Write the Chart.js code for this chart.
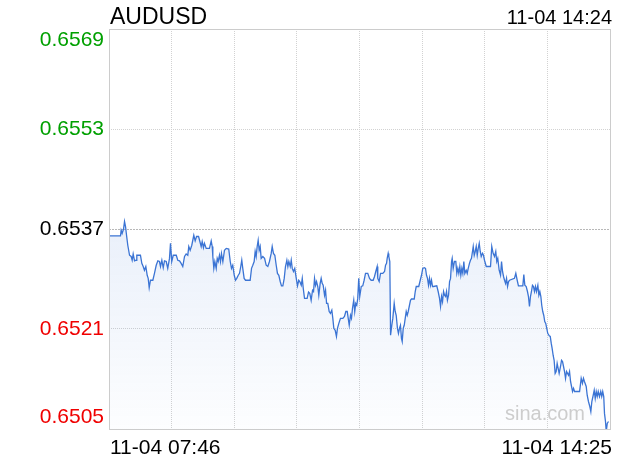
<!DOCTYPE html>
<html>
<head>
<meta charset="utf-8">
<script src="https://cdn.jsdelivr.net/npm/chart.js@4.4.1/dist/chart.umd.min.js"></script>
<style>
  html, body { margin:0; padding:0; background:#fff; }
  #wrap { width:620px; height:460px; }
</style>
</head>
<body>
<div id="wrap"><canvas id="fx" width="620" height="460"></canvas></div>
<script>
// ── Data ────────────────────────────────────────────────────
const symbol = 'AUDUSD';
const stamp = '11-04 14:24';
const xLabels = ['11-04 07:46', '11-04 14:25'];
const prevClose = 0.6537;
const yTicks = [0.6505, 0.6521, 0.6537, 0.6553, 0.6569];

// minutes after 07:46
const minutes = [
  0, 9.2, 9.7, 10.5, 11.6, 12.4, 13.2, 14.0, 15.0, 16.4, 17.7, 18.5, 19.3, 20.4, 21.7, 22.2, 25.1, 26.2, 27.3, 28.3,
  29.4, 30.5, 31.3, 32.1, 33.1, 35.0, 36.3, 37.7, 39.0, 40.3, 41.1, 42.2, 43.3, 44.3, 45.7, 46.9, 48.3, 49.1, 50.1, 51.3,
  53.7, 54.9, 56.3, 57.6, 58.9, 60.3, 61.6, 62.9, 63.7, 64.8, 66.1, 66.9, 67.7, 68.8, 69.9, 71.5, 73.6, 74.4, 75.4, 76.2,
  77.6, 80.2, 81.6, 82.4, 82.9, 83.7, 84.5, 85.6, 86.4, 87.2, 88.2, 89.0, 89.8, 90.9, 92.2, 93.6, 95.6, 96.8, 97.8, 98.8,
  100.0, 101.0, 102.0, 103.2, 104.2, 105.2, 106.0, 106.8, 107.9, 109.0, 112.7, 113.8, 114.8, 115.9, 116.7, 117.5, 118.3, 119.1, 119.9, 120.7,
  121.5, 122.8, 124.2, 125.5, 126.8, 128.1, 129.5, 130.3, 131.3, 132.4, 133.5, 134.5, 135.6, 136.7, 137.7, 138.8, 139.9, 140.9, 142.0, 142.8,
  143.6, 144.7, 145.5, 146.3, 147.3, 148.3, 149.5, 150.5, 151.5, 152.3, 153.5, 154.3, 155.1, 156.1, 158.2, 159.3, 160.3, 161.4, 162.5, 163.3,
  164.1, 164.9, 165.7, 166.7, 167.5, 168.6, 169.4, 170.2, 171.0, 172.1, 172.9, 173.7, 174.7, 175.8, 176.8, 177.9, 178.7, 179.5, 180.6, 181.6,
  182.4, 183.5, 184.8, 186.7, 188.0, 189.1, 190.2, 191.0, 191.8, 192.8, 193.6, 194.4, 195.4, 196.2, 197.0, 197.8, 198.6, 199.4, 200.2, 201.4,
  202.6, 203.7, 204.8, 206.6, 208.0, 209.3, 210.9, 212.0, 213.0, 214.1, 214.6, 215.7, 216.8, 218.6, 220.0, 220.8, 221.6, 222.1, 222.9, 223.4,
  224.2, 224.8, 225.8, 226.6, 227.7, 228.5, 229.3, 230.3, 231.1, 231.9, 232.7, 233.5, 234.1, 234.9, 235.7, 236.5, 237.3, 238.1, 238.9, 239.9,
  240.7, 241.5, 243.7, 244.5, 245.3, 247.3, 248.5, 249.5, 250.5, 251.7, 252.7, 253.5, 254.3, 255.1, 255.9, 256.7, 257.5, 258.3, 259.1, 261.7,
  262.8, 263.9, 264.7, 265.5, 266.3, 267.1, 267.9, 268.7, 269.5, 270.2, 271.1, 271.9, 272.7, 273.5, 274.0, 274.8, 275.8, 276.9, 277.7, 278.5,
  279.3, 280.1, 280.9, 281.7, 282.5, 283.3, 284.1, 285.2, 286.0, 286.8, 287.8, 288.6, 289.4, 290.2, 290.8, 291.6, 292.4, 293.2, 294.0, 294.8,
  295.6, 296.4, 297.2, 298.2, 299.0, 299.8, 301.2, 304.6, 305.6, 306.7, 307.8, 308.8, 309.6, 310.4, 311.5, 312.6, 313.4, 314.2, 315.0, 315.8,
  316.6, 317.4, 318.2, 319.0, 319.8, 323.7, 324.8, 325.9, 326.9, 330.4, 331.2, 332.0, 333.1, 334.1, 334.9, 335.7, 336.5, 337.3, 338.1, 338.9,
  339.7, 340.5, 341.3, 342.4, 343.2, 344.0, 344.8, 345.5, 346.3, 347.1, 347.9, 348.7, 349.5, 350.3, 351.5, 352.3, 353.1, 353.8, 354.6, 355.4,
  356.2, 357.0, 357.8, 358.6, 359.4, 360.5, 361.3, 362.1, 362.9, 363.7, 364.5, 365.3, 366.1, 366.9, 367.7, 368.5, 369.3, 370.1, 370.9, 371.7,
  375.7, 377.0, 378.0, 378.8, 379.6, 381.0, 381.8, 382.8, 383.9, 384.7, 385.5, 386.6, 387.4, 388.2, 389.0, 389.8, 390.6, 391.6, 392.6, 393.4,
  394.2, 395.0, 395.6, 396.4, 397.0, 397.8, 398.8
];

const prices = [
  0.65359, 0.65359, 0.65368, 0.65363, 0.65370, 0.65382, 0.65374, 0.65360, 0.65344, 0.65328, 0.65326, 0.65320, 0.65330, 0.65319, 0.65320, 0.65328, 0.65328, 0.65315, 0.65310, 0.65304,
  0.65310, 0.65296, 0.65291, 0.65276, 0.65288, 0.65288, 0.65299, 0.65312, 0.65319, 0.65318, 0.65310, 0.65320, 0.65308, 0.65319, 0.65318, 0.65307, 0.65323, 0.65347, 0.65318, 0.65328,
  0.65328, 0.65320, 0.65319, 0.65315, 0.65310, 0.65326, 0.65330, 0.65328, 0.65342, 0.65336, 0.65344, 0.65352, 0.65360, 0.65351, 0.65358, 0.65358, 0.65342, 0.65350, 0.65340, 0.65347,
  0.65339, 0.65339, 0.65351, 0.65342, 0.65326, 0.65307, 0.65318, 0.65307, 0.65323, 0.65318, 0.65328, 0.65318, 0.65331, 0.65318, 0.65336, 0.65339, 0.65338, 0.65318, 0.65307, 0.65312,
  0.65296, 0.65288, 0.65291, 0.65296, 0.65299, 0.65310, 0.65320, 0.65307, 0.65291, 0.65288, 0.65288, 0.65307, 0.65312, 0.65318, 0.65334, 0.65326, 0.65342, 0.65352, 0.65336, 0.65342,
  0.65323, 0.65326, 0.65323, 0.65312, 0.65310, 0.65318, 0.65331, 0.65342, 0.65331, 0.65328, 0.65312, 0.65299, 0.65296, 0.65286, 0.65279, 0.65279, 0.65291, 0.65310, 0.65320, 0.65310,
  0.65318, 0.65310, 0.65320, 0.65307, 0.65302, 0.65307, 0.65291, 0.65279, 0.65288, 0.65286, 0.65280, 0.65291, 0.65275, 0.65259, 0.65259, 0.65269, 0.65267, 0.65256, 0.65272, 0.65270,
  0.65291, 0.65280, 0.65286, 0.65278, 0.65264, 0.65283, 0.65291, 0.65283, 0.65280, 0.65264, 0.65272, 0.65251, 0.65251, 0.65238, 0.65235, 0.65240, 0.65227, 0.65211, 0.65208, 0.65198,
  0.65211, 0.65219, 0.65227, 0.65227, 0.65230, 0.65238, 0.65238, 0.65227, 0.65216, 0.65232, 0.65227, 0.65243, 0.65256, 0.65238, 0.65251, 0.65248, 0.65259, 0.65291, 0.65262, 0.65278,
  0.65279, 0.65288, 0.65299, 0.65299, 0.65291, 0.65288, 0.65288, 0.65294, 0.65302, 0.65310, 0.65291, 0.65286, 0.65299, 0.65299, 0.65302, 0.65312, 0.65315, 0.65323, 0.65331, 0.65326,
  0.65318, 0.65200, 0.65216, 0.65227, 0.65251, 0.65238, 0.65232, 0.65211, 0.65203, 0.65211, 0.65216, 0.65195, 0.65190, 0.65211, 0.65216, 0.65227, 0.65238, 0.65232, 0.65238, 0.65248,
  0.65256, 0.65258, 0.65258, 0.65270, 0.65278, 0.65278, 0.65288, 0.65296, 0.65307, 0.65308, 0.65307, 0.65296, 0.65291, 0.65280, 0.65291, 0.65280, 0.65288, 0.65278, 0.65278, 0.65279,
  0.65270, 0.65259, 0.65246, 0.65262, 0.65254, 0.65270, 0.65264, 0.65262, 0.65270, 0.65256, 0.65264, 0.65286, 0.65291, 0.65318, 0.65323, 0.65307, 0.65318, 0.65318, 0.65299, 0.65307,
  0.65299, 0.65310, 0.65296, 0.65307, 0.65299, 0.65318, 0.65299, 0.65304, 0.65299, 0.65307, 0.65315, 0.65320, 0.65323, 0.65334, 0.65342, 0.65328, 0.65334, 0.65342, 0.65328, 0.65339,
  0.65347, 0.65334, 0.65326, 0.65331, 0.65328, 0.65320, 0.65310, 0.65310, 0.65342, 0.65331, 0.65326, 0.65334, 0.65318, 0.65323, 0.65304, 0.65296, 0.65318, 0.65302, 0.65294, 0.65288,
  0.65283, 0.65291, 0.65278, 0.65286, 0.65288, 0.65291, 0.65299, 0.65288, 0.65279, 0.65279, 0.65297, 0.65280, 0.65278, 0.65270, 0.65262, 0.65246, 0.65262, 0.65270, 0.65280, 0.65278,
  0.65270, 0.65278, 0.65270, 0.65280, 0.65264, 0.65270, 0.65262, 0.65248, 0.65238, 0.65232, 0.65222, 0.65219, 0.65211, 0.65203, 0.65199, 0.65198, 0.65187, 0.65179, 0.65168, 0.65160,
  0.65139, 0.65142, 0.65155, 0.65147, 0.65139, 0.65150, 0.65160, 0.65158, 0.65150, 0.65142, 0.65131, 0.65142, 0.65139, 0.65136, 0.65142, 0.65126, 0.65118, 0.65110, 0.65115, 0.65110,
  0.65110, 0.65131, 0.65123, 0.65131, 0.65126, 0.65118, 0.65104, 0.65094, 0.65086, 0.65078, 0.65094, 0.65104, 0.65112, 0.65099, 0.65110, 0.65102, 0.65110, 0.65102, 0.65110, 0.65102,
  0.65110, 0.65102, 0.65075, 0.65062, 0.65046, 0.65059, 0.65062
];

// ── Frame, prev-close line, labels ──────────────────────────
const FONT = '"Liberation Sans", Arial, sans-serif';

function labelColor(v) {
  if (Math.abs(v - prevClose) < 1e-7) return '#000000';
  return v > prevClose ? '#00a000' : '#f00000';
}

const framePlugin = {
  id: 'framePlugin',
  beforeDatasetsDraw(chart) {
    const { ctx, chartArea: a, scales: { y } } = chart;
    const py = Math.round(y.getPixelForValue(prevClose)) + 0.5;
    ctx.save();
    ctx.strokeStyle = '#b8b8b8';
    ctx.lineWidth = 1;
    ctx.setLineDash([2, 1]);
    ctx.beginPath();
    ctx.moveTo(a.left, py);
    ctx.lineTo(a.right, py);
    ctx.stroke();
    ctx.restore();
  },
  afterDraw(chart) {
    const { ctx, chartArea: a, scales: { x, y } } = chart;
    ctx.save();
    // frame
    ctx.strokeStyle = '#cccccc';
    ctx.lineWidth = 1;
    ctx.strokeRect(a.left + 0.5, a.top + 0.5, a.right - a.left, a.bottom - a.top);

    // watermark
    ctx.fillStyle = '#cdcdcd';
    ctx.font = '20px ' + FONT;
    ctx.textAlign = 'right';
    ctx.textBaseline = 'alphabetic';
    ctx.fillText('sina.com', a.right - 25, a.bottom - 9);

    // y labels
    ctx.font = '21px ' + FONT;
    ctx.textAlign = 'right';
    yTicks.forEach((v, i) => {
      ctx.fillStyle = labelColor(v);
      const py = y.getPixelForValue(v);
      if (i === 0) { ctx.textBaseline = 'alphabetic'; ctx.fillText(v.toFixed(4), a.left - 5, py - 6); }
      else if (i === yTicks.length - 1) { ctx.textBaseline = 'alphabetic'; ctx.fillText(v.toFixed(4), a.left - 5, py + 17); }
      else { ctx.textBaseline = 'middle'; ctx.fillText(v.toFixed(4), a.left - 5, py); }
    });

    // x labels
    ctx.fillStyle = '#000';
    ctx.textBaseline = 'alphabetic';
    ctx.textAlign = 'left';
    ctx.fillText(xLabels[0], x.getPixelForValue(x.min) + 1, a.bottom + 25);
    ctx.textAlign = 'right';
    ctx.fillText(xLabels[1], x.getPixelForValue(x.max) + 2, a.bottom + 25);

    // header
    ctx.font = '23px ' + FONT;
    ctx.textAlign = 'left';
    ctx.fillText(symbol, a.left + 1, 24);
    ctx.font = '20px ' + FONT;
    ctx.textAlign = 'right';
    ctx.fillText(stamp, a.right + 2, 24);
    ctx.restore();
  }
};

// ── Chart ───────────────────────────────────────────────────
const points = minutes.map((m, i) => ({ x: m, y: prices[i] }));

new Chart(document.getElementById('fx').getContext('2d'), {
  type: 'line',
  data: {
    datasets: [{
      data: points,
      borderColor: '#3b74d4',
      borderWidth: 1.3,
      pointRadius: 0,
      tension: 0,
      fill: 'start',
      backgroundColor: (c) => {
        const a = c.chart.chartArea;
        if (!a) return 'rgba(59,116,212,0.1)';
        const g = c.chart.ctx.createLinearGradient(0, a.top, 0, a.bottom);
        g.addColorStop(0, 'rgba(59,116,212,0.20)');
        g.addColorStop(1, 'rgba(59,116,212,0.01)');
        return g;
      }
    }]
  },
  options: {
    responsive: false,
    animation: false,
    devicePixelRatio: 1,
    layout: { padding: { left: 109, right: 10, top: 29, bottom: 31 } },
    plugins: { legend: { display: false }, tooltip: { enabled: false } },
    scales: {
      x: {
        type: 'linear', min: 0, max: 400,
        ticks: { display: false, stepSize: 50 },
        border: { display: false, dash: [1, 1] },
        grid: { color: (c) => (c.tick.value <= 0 || c.tick.value >= 400) ? 'rgba(0,0,0,0)' : '#d2d2d2', drawTicks: false }
      },
      y: {
        min: yTicks[0], max: yTicks[yTicks.length - 1],
        afterBuildTicks: (s) => { s.ticks = yTicks.map(v => ({ value: v })); },
        ticks: { display: false },
        border: { display: false, dash: [1, 1] },
        grid: {
          color: (c) => {
            const v = c.tick.value;
            if (v === yTicks[0] || v === yTicks[yTicks.length - 1] || v === prevClose) return 'rgba(0,0,0,0)';
            return '#d2d2d2';
          },
          drawTicks: false
        }
      }
    }
  },
  plugins: [framePlugin]
});
</script>
</body>
</html>
